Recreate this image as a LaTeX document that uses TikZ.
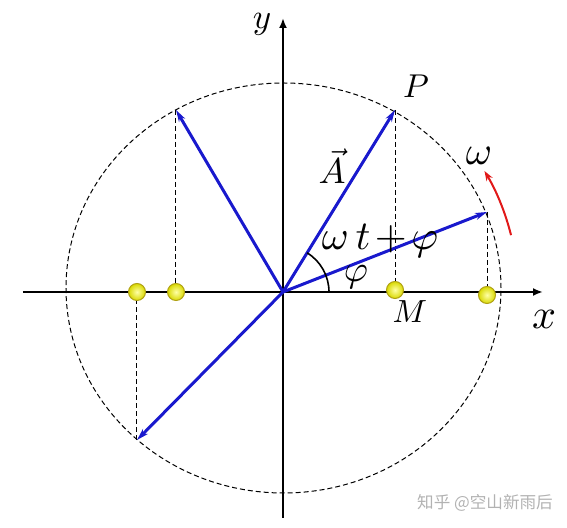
\documentclass[tikz,border=0pt]{standalone}
\usepackage{amsmath}
\usepackage{fontspec}
\newfontfamily\cjk{Noto Sans CJK SC}
\usepackage{tikz}
\usetikzlibrary{arrows.meta}
\definecolor{vecblue}{RGB}{25,25,205}
\definecolor{omegared}{RGB}{225,25,25}
\definecolor{ballrim}{RGB}{175,160,20}

\begin{document}
\begin{tikzpicture}
[x=0.5pt,y=0.5pt,
  axisDecorate/.style={-{Latex[length=5pt,width=4pt]},line width=1pt},
  vecDecorate/.style={-{Stealth[length=6pt,width=3.5pt]},line width=1.5pt,draw=vecblue},
  dashDecorate/.style={dash pattern=on 2.5pt off 1.5pt,line width=0.5pt},
  ballDecorate/.style={shape=circle,inner sep=0pt,minimum size=8.5pt,inner color=yellow!35,outer color=yellow!85!black,draw=ballrim,line width=0.5pt},
  omegaDecorate/.style={-{Stealth[length=5pt,width=3.5pt]},line width=1pt,draw=omegared},
  labelDecorate/.style={inner sep=0pt}]
\useasboundingbox (-283,-236) rectangle (284,292);
%% reference circle
\draw[dashDecorate] (0.5,4) ellipse [x radius=108.75pt, y radius=102.5pt];
%% axes
\coordinate (O) at (0,0);
\foreach \nodename/\x/\y in {xl/-260/0, xr/260/0, yb/0/-226, yt/0/274} {
  \coordinate (\nodename) at (\x,\y);
}
\draw[axisDecorate] (xl) -- (xr);
\draw[axisDecorate] (yb) -- (yt);
%% projections on the x axis
\foreach \nodename/\x/\y in {b1/-146/0, b2/-107/0, bM/112/2, b4/204/-3} {
  \node (\nodename) at (\x,\y) [ballDecorate] {};
}
%% tips of the rotating vector
\foreach \nodename/\x/\y in {tP/112/182, tB/-107/182, tC/204/80, tD/-146/-148} {
  \coordinate (\nodename) at (\x,\y);
}
\path
\foreach \startnode/\endnode in {tP/bM, tB/b2, tC/b4, tD/b1} {
  (\startnode) edge[dashDecorate] (\endnode)
};
\path
\foreach \endnode in {tP, tB, tC, tD} {
  (O) edge[vecDecorate] (\endnode)
};
%% angles
\draw[line width=0.8pt] (23pt,0) arc[start angle=0, end angle=58.4, radius=23pt];
\draw[omegaDecorate] (14:117.5pt) arc[start angle=14, end angle=31, radius=117.5pt];
%% labels
\node (ylab) at (-21,268) [labelDecorate,scale=1.75] {$y$};
\node (xlab) at (261,-27) [labelDecorate,scale=2.1] {$x$};
\node (Plab) at (133,206) [labelDecorate,scale=1.65] {$P$};
\node (Alab) at (49,126) [labelDecorate,scale=1.8] {$\vec{A}$};
\node (wlab) at (196,136) [labelDecorate,scale=2.0] {$\omega$};
\node (phase) at (97,51) [labelDecorate,scale=2.05] {$\omega\,t\mkern-2mu+\mkern-2mu\varphi$};
\node (philab) at (73,15) [labelDecorate,scale=1.85] {$\varphi$};
\node (Mlab) at (127,-20) [labelDecorate,scale=1.6] {$M$};
\node (mark) at (202,-211) [labelDecorate,text=black!30,font=\cjk\fontsize{8.3}{10}\selectfont] {知乎 @空山新雨后};
\end{tikzpicture}
\end{document}
